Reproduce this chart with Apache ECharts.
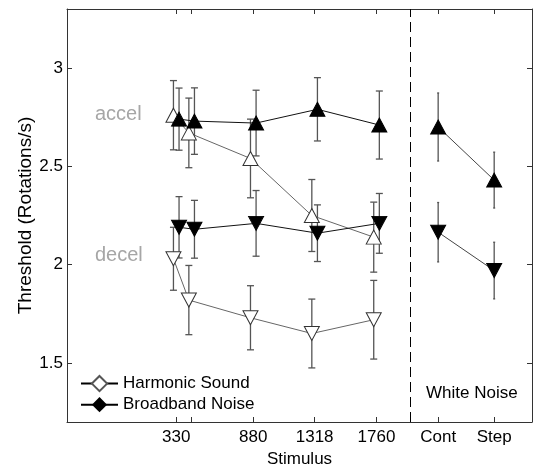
<!DOCTYPE html>
<html>
<head>
<meta charset="utf-8">
<script src="https://cdn.jsdelivr.net/npm/echarts@6/dist/echarts.min.js"></script>
<style>
  html, body { margin: 0; padding: 0; background: #fff; }
  #chart { width: 533px; height: 464px; }
</style>
</head>
<body>
<div id="chart"></div>
<script>
// stimulus frequencies (Hz) and the two white-noise conditions
const stimulusX = [330, 440, 880, 1318, 1760];
const noiseX = [2200, 2600];
const dividerX = 2000;
const jitter = 20;

const xTickValues = [330, 440, 880, 1318, 1760, 2200, 2600];
const xLabelValues = [330, 880, 1318, 1760, 2200, 2600];
const xLabelText = ['330', '880', '1318', '1760', 'Cont', 'Step'];
const yTickValues = [1.5, 2, 2.5, 3];

// thresholds (rotations/s) and error half-widths
const harmonicAccel = [2.76, 2.67, 2.54, 2.25, 2.14];
const harmonicAccelErr = [0.176, 0.177, 0.2, 0.183, 0.178];
const harmonicDecel = [2.03, 1.82, 1.73, 1.65, 1.72];
const harmonicDecelErr = [0.16, 0.176, 0.163, 0.175, 0.2];
const broadbandAccel = [2.74, 2.73, 2.72, 2.79, 2.71];
const broadbandAccelErr = [0.158, 0.169, 0.167, 0.161, 0.173];
const broadbandDecel = [2.19, 2.18, 2.21, 2.16, 2.21];
const broadbandDecelErr = [0.156, 0.147, 0.167, 0.144, 0.152];
const whiteAccel = [2.70, 2.43];
const whiteAccelErr = [0.173, 0.142];
const whiteDecel = [2.165, 1.97];
const whiteDecelErr = [0.151, 0.144];

const FONT = '"Liberation Sans", Arial, sans-serif';

function pts(xs, ys, dx) {
  return xs.map((x, i) => [x + dx, ys[i]]);
}
function bars(xs, ys, errs, dx) {
  return xs.map((x, i) => [x + dx, ys[i] - errs[i], ys[i] + errs[i]]);
}

function errorBar(capHalf) {
  return function (params, api) {
    const x = api.value(0);
    const lo = api.coord([x, api.value(1)]);
    const hi = api.coord([x, api.value(2)]);
    const style = { stroke: '#555', lineWidth: 1.3 };
    return {
      type: 'group',
      children: [
        { type: 'line', shape: { x1: lo[0], y1: lo[1], x2: hi[0], y2: hi[1] }, style: style },
        { type: 'line', shape: { x1: lo[0] - capHalf, y1: lo[1], x2: lo[0] + capHalf, y2: lo[1] }, style: style },
        { type: 'line', shape: { x1: hi[0] - capHalf, y1: hi[1], x2: hi[0] + capHalf, y2: hi[1] }, style: style }
      ]
    };
  };
}

function errSeries(data, capHalf) {
  return {
    type: 'custom',
    renderItem: errorBar(capHalf),
    encode: { x: 0, y: [1, 2] },
    data: data,
    silent: true,
    z: 1
  };
}

const openStyle = { color: '#fff', borderColor: '#333', borderWidth: 1 };
const filledStyle = { color: '#000', borderColor: '#000', borderWidth: 1 };

function lineSeries(data, filled, down, lineColor) {
  return {
    type: 'line',
    data: data,
    symbol: 'triangle',
    symbolSize: [15, 14],
    symbolRotate: down ? 180 : 0,
    showAllSymbol: true,
    lineStyle: { color: lineColor, width: 1 },
    itemStyle: filled ? filledStyle : openStyle,
    silent: true,
    z: 3
  };
}

const labelMap = {};
xLabelValues.forEach((v, i) => { labelMap[v] = xLabelText[i]; });

const chart = echarts.init(document.getElementById('chart'));

const accelLine = lineSeries(pts(stimulusX, harmonicAccel, -jitter), false, false, '#666');
accelLine.markLine = {
  silent: true,
  symbol: 'none',
  label: { show: false },
  lineStyle: { color: '#000', width: 1, type: [10, 5] },
  data: [{ xAxis: dividerX }]
};

const frameTick = { inside: true, length: 5, lineStyle: { color: '#333' } };

const option = {
  animation: false,
  grid: { left: 67, right: 1, top: 9, bottom: 42, outerBoundsMode: 'none' },
  xAxis: [{
    type: 'value',
    min: -450,
    max: 2870,
    name: 'Stimulus',
    nameLocation: 'middle',
    nameGap: 27,
    nameTextStyle: { fontFamily: FONT, fontSize: 17, color: '#000' },
    axisLine: { onZero: false, lineStyle: { color: '#333' } },
    axisTick: Object.assign({ customValues: xTickValues }, frameTick),
    axisLabel: {
      customValues: xLabelValues,
      formatter: v => labelMap[v] || '',
      fontFamily: FONT, fontSize: 17, color: '#000', margin: 7
    },
    splitLine: { show: false }
  }, {
    type: 'value',
    position: 'top',
    min: -450,
    max: 2870,
    axisLine: { show: true, onZero: false, lineStyle: { color: '#333' } },
    axisTick: Object.assign({ customValues: xTickValues }, frameTick),
    axisLabel: { show: false },
    splitLine: { show: false }
  }],
  yAxis: [{
    type: 'value',
    min: 1.2,
    max: 3.3,
    name: 'Threshold (Rotations/s)',
    nameLocation: 'middle',
    nameGap: 32,
    nameMoveOverlap: false,
    nameTextStyle: { fontFamily: FONT, fontSize: 19, color: '#000' },
    axisLine: { show: true, onZero: false, lineStyle: { color: '#333' } },
    axisTick: Object.assign({ show: true, customValues: yTickValues }, frameTick),
    axisLabel: { customValues: yTickValues, fontFamily: FONT, fontSize: 17, color: '#000', margin: 4 },
    splitLine: { show: false }
  }, {
    type: 'value',
    position: 'right',
    min: 1.2,
    max: 3.3,
    axisLine: { show: true, onZero: false, lineStyle: { color: '#333' } },
    axisTick: Object.assign({ show: true, customValues: yTickValues }, frameTick),
    axisLabel: { show: false },
    splitLine: { show: false }
  }],
  legend: {
    orient: 'vertical',
    left: 75,
    top: 370,
    itemWidth: 37,
    itemHeight: 19,
    itemGap: 4,
    selectedMode: false,
    textStyle: { fontFamily: FONT, fontSize: 17, color: '#000' },
    data: ['Harmonic Sound', 'Broadband Noise']
  },
  graphic: [
    { type: 'text', left: 95, top: 104, style: { text: 'accel', font: '20px ' + FONT, fill: '#a6a6a6' } },
    { type: 'text', left: 95, top: 245, style: { text: 'decel', font: '20px ' + FONT, fill: '#a6a6a6' } },
    { type: 'text', left: 426, top: 385, style: { text: 'White Noise', font: '17px ' + FONT, fill: '#000' } }
  ],
  series: [
    errSeries(bars(stimulusX, harmonicAccel, harmonicAccelErr, -jitter), 3.5),
    errSeries(bars(stimulusX, harmonicDecel, harmonicDecelErr, -jitter), 3.5),
    errSeries(bars(stimulusX, broadbandAccel, broadbandAccelErr, jitter), 3.5),
    errSeries(bars(stimulusX, broadbandDecel, broadbandDecelErr, jitter), 3.5),
    errSeries(bars(noiseX, whiteAccel, whiteAccelErr, 0), 1),
    errSeries(bars(noiseX, whiteDecel, whiteDecelErr, 0), 1),
    accelLine,
    lineSeries(pts(stimulusX, harmonicDecel, -jitter), false, true, '#666'),
    lineSeries(pts(stimulusX, broadbandAccel, jitter), true, false, '#111'),
    lineSeries(pts(stimulusX, broadbandDecel, jitter), true, true, '#111'),
    lineSeries(pts(noiseX, whiteAccel, 0), true, false, '#444'),
    lineSeries(pts(noiseX, whiteDecel, 0), true, true, '#444'),
    {
      name: 'Harmonic Sound', type: 'line', data: [], symbol: 'diamond',
      lineStyle: { color: '#000', width: 1 }, itemStyle: { color: '#fff', borderColor: '#555', borderWidth: 1 }
    },
    {
      name: 'Broadband Noise', type: 'line', data: [], symbol: 'diamond',
      lineStyle: { color: '#000', width: 1 }, itemStyle: { color: '#000', borderColor: '#000' }
    }
  ]
};

chart.setOption(option);
</script>
</body>
</html>
